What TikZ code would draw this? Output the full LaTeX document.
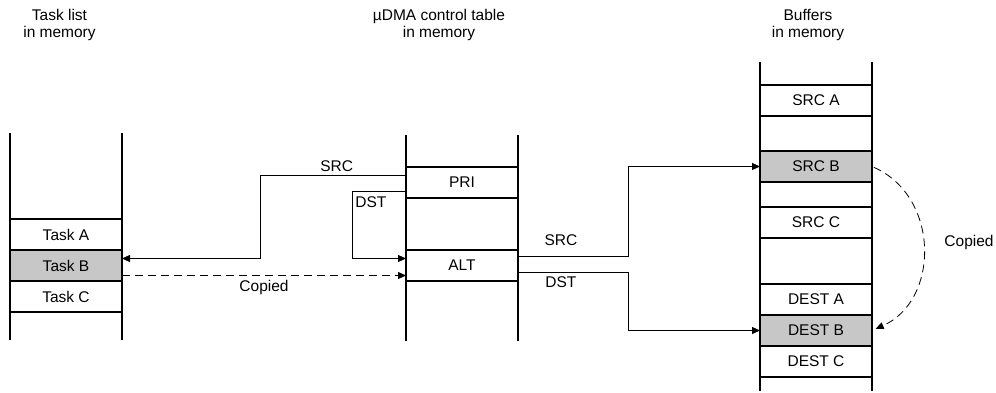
\documentclass[tikz,border=0pt]{standalone}
\usepackage{fontspec}
\setmainfont{Liberation Sans}
\usepackage{tikz}
\usetikzlibrary{arrows.meta, positioning}

\begin{document}
\begin{tikzpicture}[x=1pt, y=-1pt,
  every node/.style={font=\fontsize{15.5}{17}\selectfont},
  cell/.style={draw, line width=1.8pt, minimum width=112pt, minimum height=31pt, inner sep=0pt, outer sep=0pt},
  hot/.style={cell, fill=black!22},
  rail/.style={line width=1.8pt},
  link/.style={line width=0.9pt, -{Triangle[length=8pt, width=7pt]}},
  copyline/.style={link, dash pattern=on 8pt off 5pt}]
  \useasboundingbox (0,0) rectangle (996,393);

  % Task list
  \node[align=center] (hdtask) at (59.5,25) {Task list\\in memory};
  \draw[rail] (10,133) -- (10,340);
  \draw[rail] (122,133) -- (122,340);
  \node[cell] (taska) at (66,234.5) {Task A};
  \node[hot, below=0pt of taska] (taskb) {Task B};
  \node[cell, below=0pt of taskb] (taskc) {Task C};

  % Control table
  \node[align=center] (hddma) at (439,25) {µDMA control table\\in memory};
  \draw[rail] (406,135) -- (406,341);
  \draw[rail] (518,135) -- (518,341);
  \node[cell] (pri) at (462,182.5) {PRI};
  \node[cell] (alt) at (462,265.5) {ALT};

  % Buffers
  \node[align=center] (hdbuf) at (808,25) {Buffers\\in memory};
  \draw[rail] (760,62) -- (760,391);
  \draw[rail] (872,62) -- (872,391);
  \node[cell] (srca) at (816,100.5) {SRC A};
  \node[hot] (srcb) at (816,166.5) {SRC B};
  \node[cell] (srcc) at (816,222.5) {SRC C};
  \node[cell] (desta) at (816,299.5) {DEST A};
  \node[hot, below=0pt of desta] (destb) {DEST B};
  \node[cell, below=0pt of destb] (destc) {DEST C};

  % Pointers from the primary entry
  \draw[link] ([yshift=7.5pt]pri.west) -- node[above, pos=0.475] {SRC} ++(-146,0)
    |- ([yshift=7pt]taskb.east);
  \draw[link] ([yshift=-8.5pt]pri.west) -- ++(-54,0)
    node[below right, inner xsep=3pt, inner ysep=5pt] {DST} |- ([yshift=7pt]alt.west);
  \draw[copyline] ([yshift=-10pt]taskb.east) -- node[below=0.5pt] {Copied} ([yshift=-10pt]alt.west);

  % Pointers from the alternate entry
  \draw[link] ([yshift=9pt]alt.east) -- node[above=7pt, pos=0.39] {SRC} ++(110,0) |- (srcb.west);
  \draw[link] ([yshift=-7pt]alt.east) -- node[below, pos=0.39] {DST} ++(110,0) |- (destb.west);

  % Buffer copy
  \draw[copyline, line width=0.8pt, shorten <=2pt, shorten >=4pt]
    (srcb.east) .. controls +(68,30) and +(68,-30) .. (destb.east);
  \node (copied) at (969,242) {Copied};
\end{tikzpicture}
\end{document}
